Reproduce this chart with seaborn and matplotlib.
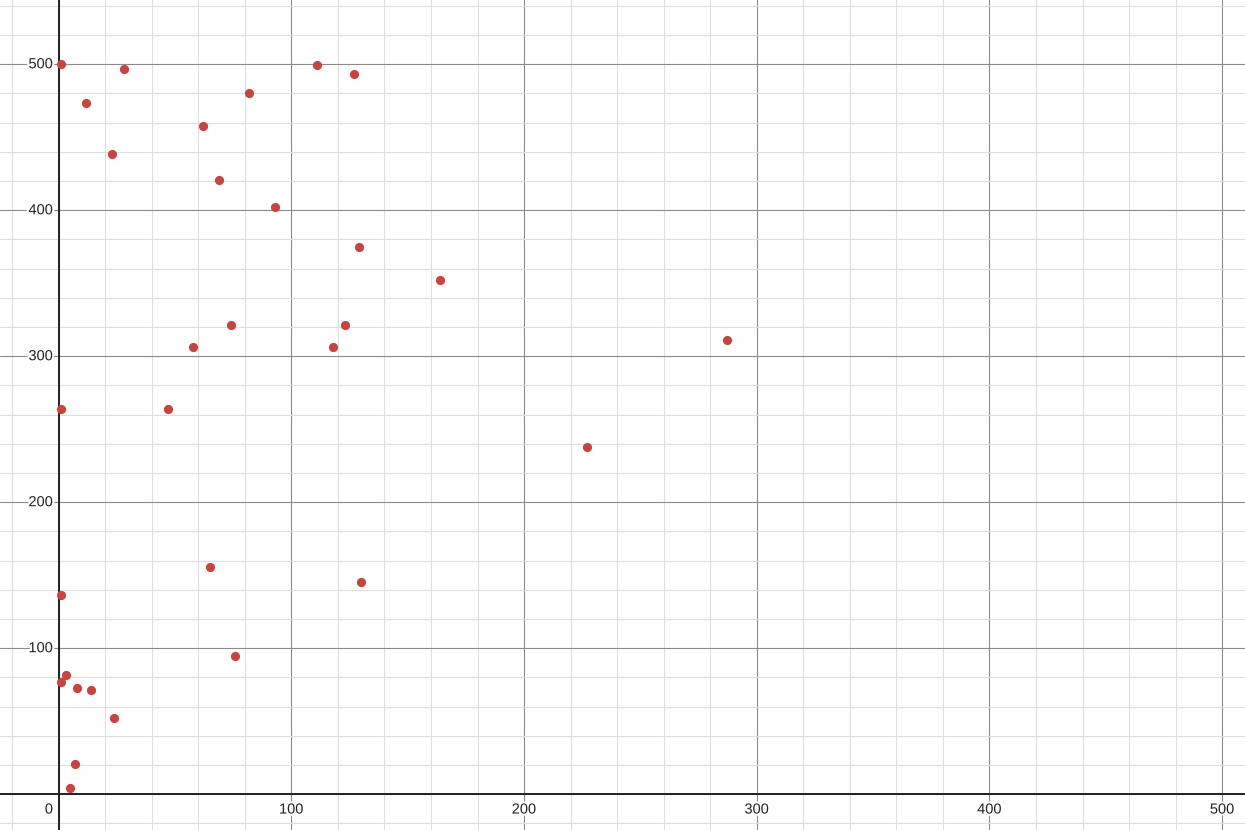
import matplotlib
matplotlib.use("Agg")
import matplotlib.pyplot as plt
import matplotlib.patheffects as pe
from matplotlib.ticker import MultipleLocator
import seaborn as sns
import pandas as pd

# points
xs = [1, 27.9, 11.9, 22.9, 61.9, 81.9, 110.9, 126.9, 68.9, 92.9,
      128.9, 163.9, 73.9, 123.0, 57.8, 117.9, 287.0, 0.9, 47.0, 227.0,
      64.9, 129.9, 0.9, 75.9, 3.0, 1.0, 7.9, 13.9, 23.8, 7.0, 4.9]
ys = [500, 496.8, 473.7, 438.6, 457.7, 480.5, 499.7, 493.6, 420.5, 402.5,
      374.7, 352.3, 321.2, 321.2, 306.2, 306.2, 311.4, 263.9, 263.9, 237.8,
      155.9, 145.6, 136.7, 94.7, 81.9, 76.7, 72.6, 71.4, 52.5, 20.5, 4.5]

x_ticks = [100, 200, 300, 400, 500]
y_ticks = [100, 200, 300, 400, 500]

df = pd.DataFrame({"x": xs, "y": ys})

sns.set_style("white")
plt.rcParams['font.family'] = ['Liberation Sans', 'DejaVu Sans']

fig = plt.figure(figsize=(12.45, 8.3), dpi=100)
ax = fig.add_axes([0, 0, 1, 1])

ax.set_xlim(-25.2, 509.8)
ax.set_ylim(-24.5, 544.0)

# desmos-like grid
ax.xaxis.set_major_locator(MultipleLocator(100))
ax.yaxis.set_major_locator(MultipleLocator(100))
ax.xaxis.set_minor_locator(MultipleLocator(20))
ax.yaxis.set_minor_locator(MultipleLocator(20))
ax.grid(which="minor", color="#dedede", linewidth=0.8)
ax.grid(which="major", color="#8c8c8c", linewidth=0.8)
ax.set_axisbelow(True)
ax.tick_params(which="both", length=0, labelbottom=False, labelleft=False)
for s in ax.spines.values():
    s.set_visible(False)

ax.axhline(0, color="#222222", linewidth=1.4, zorder=2)
ax.axvline(0, color="#222222", linewidth=1.4, zorder=2)

stroke = [pe.withStroke(linewidth=3, foreground="white")]
for t in x_ticks:
    ax.annotate(str(t), (t, 0), xytext=(0, -6), textcoords="offset points",
                ha="center", va="top", fontsize=10.5, color="#222222",
                path_effects=stroke, zorder=3)
for t in y_ticks:
    ax.annotate(str(t), (0, t), xytext=(-4, 0), textcoords="offset points",
                ha="right", va="center", fontsize=10.5, color="#222222",
                path_effects=stroke, zorder=3)
ax.annotate("0", (0, 0), xytext=(-4, -6), textcoords="offset points",
            ha="right", va="top", fontsize=10.5, color="#222222",
            path_effects=stroke, zorder=3)

sns.scatterplot(data=df, x="x", y="y", ax=ax, color="#c74440", s=44,
                linewidth=0, zorder=4, legend=False)
ax.set_xlabel("")
ax.set_ylabel("")

fig.savefig("out.png", dpi=100)
